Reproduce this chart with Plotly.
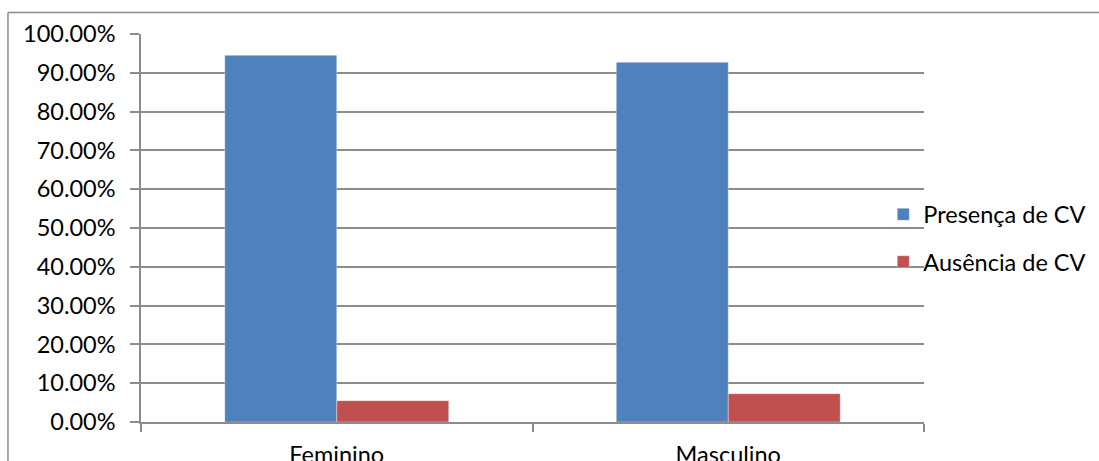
import plotly.graph_objects as go

# Share of respondents by sex, with / without CV
categories = ["Feminino", "Masculino"]
presenca = [0.945, 0.927]
ausencia = [0.055, 0.073]
series_names = ["Presença de CV", "Ausência de CV"]
y_ticks = [0.0, 0.1, 0.2, 0.3, 0.4, 0.5, 0.6, 0.7, 0.8, 0.9, 1.0]

GRID = "#8c8c8c"
FONT = "Lato"
FSIZE = 23.5

fig = go.Figure()
fig.add_trace(go.Bar(
    x=categories, y=presenca, name=series_names[0], legendgroup="a",
    marker=dict(color="#4F81BD", line=dict(color="rgba(255,255,255,0.35)", width=1)),
))
fig.add_trace(go.Bar(
    x=categories, y=ausencia, name=series_names[1], legendgroup="b",
    marker=dict(color="#C0504D", line=dict(color="rgba(255,255,255,0.35)", width=1)),
))

fig.update_layout(
    width=1099, height=461,
    margin=dict(l=141, r=175, t=34, b=39, autoexpand=False),
    paper_bgcolor="white", plot_bgcolor="white",
    barmode="group", bargap=0.428, bargroupgap=0,
    font=dict(family=FONT, size=FSIZE, color="#000000"),
    showlegend=True,
    legend=dict(
        x=0.948, xanchor="left", y=0.473, yanchor="middle",
        font=dict(family=FONT, size=FSIZE, color="#000000"),
        tracegroupgap=14, bgcolor="rgba(0,0,0,0)",
        itemwidth=30,
    ),
    xaxis=dict(
        automargin=False,
        showline=True, linecolor=GRID, linewidth=1.5,
        ticks="outside", tickson="boundaries", ticklen=8, tickcolor=GRID, tickwidth=1.5,
        ticklabelstandoff=11, showgrid=False,
    ),
    yaxis=dict(
        automargin=False,
        range=[0, 1], tickvals=y_ticks, tickformat=".2%",
        showline=True, linecolor=GRID, linewidth=1.5,
        ticks="outside", ticklen=9, tickcolor=GRID, tickwidth=1.5,
        showgrid=True, gridcolor=GRID, gridwidth=1.5,
        ticklabelstandoff=10, zeroline=False,
    ),
)

# chart-area frame (left and top edges)
fig.add_shape(type="line", xref="paper", yref="paper",
              x0=-0.1699, y0=-0.2, x1=-0.1699, y1=1.0554,
              line=dict(color=GRID, width=1.5))
fig.add_shape(type="line", xref="paper", yref="paper",
              x0=-0.1699, y0=1.0554, x1=1.3, y1=1.0554,
              line=dict(color=GRID, width=1.5))

fig.write_html("out.html")
